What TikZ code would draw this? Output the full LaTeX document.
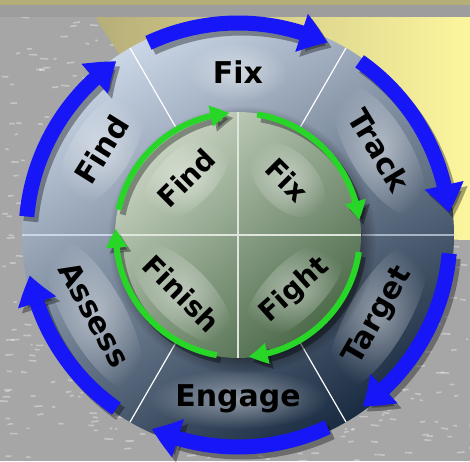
\documentclass[tikz,border=0pt]{standalone}
\usepackage{fontspec}
\setsansfont{DejaVu Sans}
\usetikzlibrary{arrows.meta,bending,positioning,fadings}
\definecolor{ringlight}{RGB}{202,214,230}
\definecolor{ringdark}{RGB}{26,44,66}
\definecolor{disclight}{RGB}{200,212,194}
\definecolor{discdark}{RGB}{76,106,74}
\definecolor{cycleblue}{RGB}{22,22,246}
\definecolor{cyclegreen}{RGB}{40,214,40}
\definecolor{bggray}{RGB}{166,166,166}
\definecolor{bandgray}{RGB}{157,157,157}
\definecolor{khaki}{RGB}{182,174,120}
\definecolor{paleyellow}{RGB}{252,246,158}
\tikzfading[name=glow, inner color=transparent!55, outer color=transparent!100]

\begin{document}
\begin{tikzpicture}[x=1pt,y=1pt,
    outerlbl/.style={font=\sffamily\bfseries\fontsize{30}{30}\selectfont, inner sep=0pt},
    innerlbl/.style={font=\sffamily\bfseries\fontsize{28}{28}\selectfont, inner sep=0pt},
    bluearr/.style={line width=15pt, cycleblue, -{Triangle[width=38pt,length=28pt,bend]}},
    greenarr/.style={line width=6pt, cyclegreen, -{Triangle[width=20pt,length=19pt,bend]}},
    shadowarr/.style={black, opacity=.35, shift={(4,-5)}},
    divider/.style={white, line width=1.2pt},
    glowspot/.style={white, path fading=glow}
]
\useasboundingbox (-238,-226) rectangle (232,235);

% background
\fill[bggray] (-238,-226) rectangle (232,235);
\pgfmathsetseed{7}
\foreach \i in {1,...,700}{
  \pgfmathsetmacro\tx{rnd*470-238}
  \pgfmathsetmacro\ty{rnd*461-226}
  \pgfmathsetmacro\tl{rnd*7+2}
  \draw[white, opacity=.35, line width=1.6pt] (\tx,\ty) -- ++(\tl,{rnd*2-1});
}
\shade[left color=khaki, right color=paleyellow] (-143,218) -- (232,218) -- (232,-5) -- (0,0) -- cycle;
\fill[khaki] (-238,230) rectangle (232,235);
\fill[bandgray] (-238,218) rectangle (232,230);

% outer ring
\shade[top color=ringlight, bottom color=ringdark, shading angle=30] (0,0) circle[radius=216];
\fill[glowspot, rotate around={0:(90:163)}] (90:163) ellipse[x radius=50, y radius=30];
\fill[glowspot, rotate around={-59:(31:165)}] (31:165) ellipse[x radius=75, y radius=30];
\fill[glowspot, rotate around={60:(-30:162)}] (-30:162) ellipse[x radius=85, y radius=30];
\fill[glowspot, rotate around={0:(-90:164)}] (-90:164) ellipse[x radius=90, y radius=30];
\fill[glowspot, rotate around={-61:(209:164)}] (209:164) ellipse[x radius=85, y radius=30];
\fill[glowspot, rotate around={58:(148:161)}] (148:161) ellipse[x radius=65, y radius=30];
\draw[divider] (60:124) -- (60:216);
\draw[divider] (120:124) -- (120:216);
\draw[divider] (240:124) -- (240:216);
\draw[divider] (300:124) -- (300:216);
\draw[ringlight, line width=2.5pt] (180:124) -- (180:216);
\draw[ringlight!80!ringdark, line width=2.5pt] (0:124) -- (0:216);

% inner disc
\fill[black, opacity=.6, path fading=circle with fuzzy edge 20 percent] (4,-5) circle[radius=134];
\shade[top color=disclight, bottom color=discdark, shading angle=40] (0,0) circle[radius=123];
\fill[glowspot, rotate around={45:(132:77)}] (132:77) ellipse[x radius=55, y radius=28];
\fill[glowspot, rotate around={-45:(48:74)}] (48:74) ellipse[x radius=45, y radius=28];
\fill[glowspot, rotate around={45:(-44:79)}] (-44:79) ellipse[x radius=65, y radius=28];
\fill[glowspot, rotate around={-45:(226:81)}] (226:81) ellipse[x radius=65, y radius=28];
\draw[disclight!60!white, line width=1.5pt] (0,123) -- (0,-123);
\draw[disclight!60!white, line width=1.5pt] (-123,0) -- (123,0);

% labels
\node[outerlbl] (fix) at (90:163) {Fix};
\node[outerlbl, rotate=-59] (track) at (31:165) {Track};
\node[outerlbl, rotate=60] (target) at (-30:162) {Target};
\node[outerlbl] (engage) at (-90:164) {Engage};
\node[outerlbl, rotate=-61] (assess) at (209:164) {Assess};
\node[outerlbl, rotate=58] (find) at (148:161) {Find};
\node[innerlbl, rotate=45] (findin) at (132:77) {Find};
\node[innerlbl, rotate=-45] (fixin) at (48:74) {Fix};
\node[innerlbl, rotate=42] (fight) at (-44:79) {Fight};
\node[innerlbl, rotate=-45] (finish) at (226:81) {Finish};

% blue cycle
\draw[bluearr, shadowarr] (115:212) arc[start angle=115, end angle=65, radius=212];
\draw[bluearr, shadowarr] (55:212) arc[start angle=55, end angle=6, radius=212];
\draw[bluearr, shadowarr] (-5:212) arc[start angle=-5, end angle=-54, radius=212];
\draw[bluearr, shadowarr] (-65:212) arc[start angle=-65, end angle=-114, radius=212];
\draw[bluearr, shadowarr] (235:212) arc[start angle=235, end angle=191, radius=212];
\draw[bluearr, shadowarr] (175:212) arc[start angle=175, end angle=125, radius=212];
\draw[bluearr] (115:212) arc[start angle=115, end angle=65, radius=212];
\draw[bluearr] (55:212) arc[start angle=55, end angle=6, radius=212];
\draw[bluearr] (-5:212) arc[start angle=-5, end angle=-54, radius=212];
\draw[bluearr] (-65:212) arc[start angle=-65, end angle=-114, radius=212];
\draw[bluearr] (235:212) arc[start angle=235, end angle=191, radius=212];
\draw[bluearr] (175:212) arc[start angle=175, end angle=125, radius=212];

% green cycle
\draw[greenarr, shadowarr] (168:122) arc[start angle=168, end angle=94, radius=122];
\draw[greenarr, shadowarr] (81:122) arc[start angle=81, end angle=7, radius=122];
\draw[greenarr, shadowarr] (-8:122) arc[start angle=-8, end angle=-85, radius=122];
\draw[greenarr, shadowarr] (260:122) arc[start angle=260, end angle=177, radius=122];
\draw[greenarr] (168:122) arc[start angle=168, end angle=94, radius=122];
\draw[greenarr] (81:122) arc[start angle=81, end angle=7, radius=122];
\draw[greenarr] (-8:122) arc[start angle=-8, end angle=-85, radius=122];
\draw[greenarr] (260:122) arc[start angle=260, end angle=177, radius=122];
\end{tikzpicture}
\end{document}
